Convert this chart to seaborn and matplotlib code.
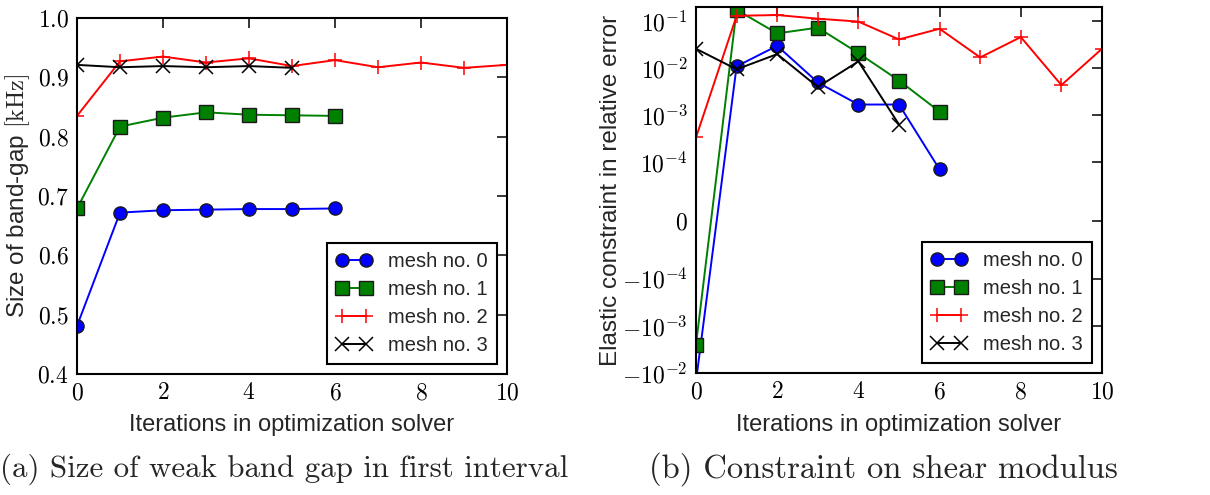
import numpy as np
import pandas as pd
import matplotlib
matplotlib.use("Agg")
import matplotlib.pyplot as plt
import matplotlib.ticker as mticker
import seaborn as sns

# ---------------- data ----------------
labels = ["mesh no. 0", "mesh no. 1", "mesh no. 2", "mesh no. 3"]

# (a) size of band gap [kHz]
gap_it0 = [0, 1, 2, 3, 4, 5, 6]
gap_m0 = [0.481, 0.672, 0.676, 0.677, 0.678, 0.678, 0.679]
gap_it1 = [0, 1, 2, 3, 4, 5, 6]
gap_m1 = [0.679, 0.817, 0.832, 0.841, 0.837, 0.836, 0.835]
gap_it2 = [0, 1, 2, 3, 4, 5, 6, 7, 8, 9, 10]
gap_m2 = [0.835, 0.927, 0.935, 0.925, 0.932, 0.919, 0.929, 0.917, 0.925, 0.916, 0.921]
gap_it3 = [0, 1, 2, 3, 4, 5]
gap_m3 = [0.921, 0.917, 0.919, 0.917, 0.919, 0.916]

# (b) elastic constraint in relative error
err_it0 = [0, 1, 2, 3, 4, 5, 6]
err_m0 = [-0.015, 0.011, 0.030, 0.0050, 0.0017, 0.0017, 8.8e-5]
err_it1 = [0, 1, 2, 3, 4, 5, 6]
err_m1 = [-0.0025, 0.174, 0.055, 0.073, 0.021, 0.0055, 0.0012]
err_it2 = [0, 1, 2, 3, 4, 5, 6, 7, 8, 9, 10]
err_m2 = [3.4e-4, 0.13, 0.135, 0.113, 0.098, 0.041, 0.069, 0.017, 0.046, 0.0044, 0.026]
err_it3 = [0, 1, 2, 3, 4, 5]
err_m3 = [0.026, 0.0095, 0.020, 0.0040, 0.014, 6.4e-4]

left_xticks = [0, 2, 4, 6, 8, 10]
left_yticks = [0.4, 0.5, 0.6, 0.7, 0.8, 0.9, 1.0]
right_yticks = [-1e-2, -1e-3, -1e-4, 0, 1e-4, 1e-3, 1e-2, 1e-1]
right_yticklabels = [r"$-10^{-2}$", r"$-10^{-3}$", r"$-10^{-4}$", r"$0$",
                     r"$10^{-4}$", r"$10^{-3}$", r"$10^{-2}$", r"$10^{-1}$"]

# ---------------- style ----------------
sns.set_theme(style="white")
plt.rcParams["font.family"] = ["Liberation Sans", "DejaVu Sans"]
plt.rcParams["mathtext.fontset"] = "cm"
plt.rcParams["axes.linewidth"] = 1.3
plt.rcParams["xtick.direction"] = "in"
plt.rcParams["ytick.direction"] = "in"

colors = ["#0000ff", "#008000", "#ff0000", "#000000"]
markers = ["o", "s", "+", "x"]
mecs = ["k", "k", "#ff0000", "#000000"]

fig = plt.figure(figsize=(12.1, 4.95), dpi=100)
axL = fig.add_axes([77 / 1210, 1 - 374 / 495, 430 / 1210, 356 / 495])
axR = fig.add_axes([696 / 1210, 1 - 373 / 495, 406 / 1210, 366 / 495])

gap_series = [(gap_it0, gap_m0), (gap_it1, gap_m1), (gap_it2, gap_m2), (gap_it3, gap_m3)]
err_series = [(err_it0, err_m0), (err_it1, err_m1), (err_it2, err_m2), (err_it3, err_m3)]

for ax, series in ((axL, gap_series), (axR, err_series)):
    for (xs, ys), lab, c, m, mec in zip(series, labels, colors, markers, mecs):
        df = pd.DataFrame({"it": xs, "val": ys})
        sns.lineplot(data=df, x="it", y="val", ax=ax, color=c, marker=m,
                     markersize=9.5,
                     markeredgecolor=mec, markeredgewidth=1.0 if m in "os" else 1.1,
                     linewidth=1.4, label=lab, sort=False, clip_on=True)

def style_axes(ax, label_y):
    ax.set_xlim(0, 10)
    ax.set_xticks(left_xticks)
    ax.set_xticklabels([rf"${t}$" for t in left_xticks], fontsize=17)
    ax.tick_params(axis="both", which="major", length=7, width=1.1,
                   top=True, right=True, direction="in", pad=6, colors="black")
    for s in ax.spines.values():
        s.set_color("black")
        s.set_linewidth(1.5)
    ax.set_xlabel("Iterations in optimization solver", fontsize=17, va="center")
    ax.xaxis.set_label_coords(0.5, label_y)
    leg = ax.legend(loc="lower right", numpoints=2, fontsize=14.5, frameon=True,
                    fancybox=False, framealpha=1, edgecolor="black",
                    borderaxespad=0.5, handlelength=1.8, labelspacing=0.45,
                    borderpad=0.45, handletextpad=0.8)
    leg.get_frame().set_linewidth(1.5)

style_axes(axL, (374 - 425) / 356)
axL.set_ylim(0.4, 1.0)
axL.set_yticks(left_yticks)
axL.set_yticklabels([rf"${t:.1f}$" for t in left_yticks], fontsize=17)
axL.set_ylabel(r"Size of band-gap $[\mathrm{kHz}]$", fontsize=17.5, va="center")
axL.yaxis.set_label_coords((18 - 77) / 430, 0.5)

style_axes(axR, (373 - 425) / 366)
axR.set_yscale("symlog", linthresh=1e-4, linscale=1 / 0.9)
axR.set_ylim(-1e-2, 0.2)
axR.set_yticks(right_yticks)
axR.set_yticklabels(right_yticklabels, fontsize=17)
axR.yaxis.set_minor_locator(mticker.NullLocator())
axR.set_ylabel("Elastic constraint in relative error", fontsize=17.5, va="center")
axR.yaxis.set_label_coords((611 - 696) / 406, 0.5)

fig.text(0.0, 1 - 469 / 495, "(a) Size of weak band gap in first interval",
         fontfamily="cmr10", fontsize=22.3, va="center", ha="left")
fig.text(649 / 1210, 1 - 469 / 495, "(b) Constraint on shear modulus",
         fontfamily="cmr10", fontsize=23.5, va="center", ha="left")

fig.savefig("out.png", dpi=100)
